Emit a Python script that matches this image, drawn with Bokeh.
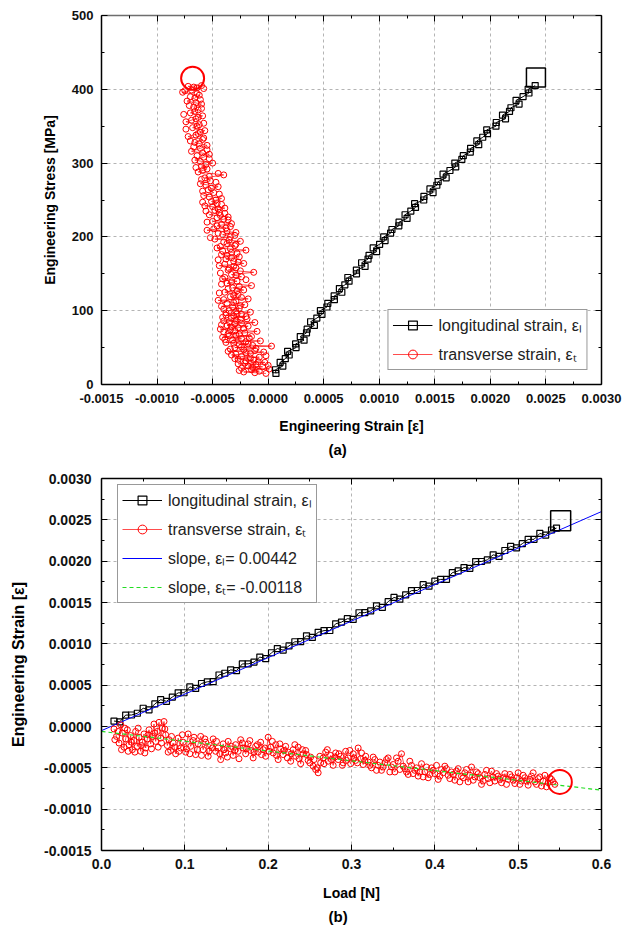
from bokeh.plotting import figure
from bokeh.models import (Range1d, LinearAxis, FixedTicker, NumeralTickFormatter,
                          Legend, LegendItem, Title)
from bokeh.layouts import column
from bokeh.embed import file_html
from bokeh.resources import INLINE

# ---------------- DATA ----------------
# (a) stress vs strain : longitudinal strain (black squares)
long_a_stress = [15, 20, 25, 30, 35, 40, 45, 50, 55, 60,
                 65, 70, 75, 80, 85, 90, 95, 100, 105, 110,
                 115, 120, 125, 130, 135, 140, 145, 150, 155, 160,
                 165, 170, 175, 180, 185, 190, 195, 200, 205, 210,
                 215, 220, 225, 230, 235, 240, 245, 250, 255, 260,
                 265, 270, 275, 280, 285, 290, 295, 300, 305, 310,
                 315, 320, 325, 330, 335, 340, 345, 350, 355, 360,
                 365, 370, 375, 380, 385, 390, 395, 400, 405]
long_a_strain = [0.000070, 0.000066, 0.000132, 0.000108, 0.000154, 0.000189, 0.000175, 0.000251, 0.000247, 0.000323,
                 0.000289, 0.000345, 0.000351, 0.000416, 0.000382, 0.000438, 0.000484, 0.000470, 0.000529, 0.000537,
                 0.000596, 0.000594, 0.000663, 0.000641, 0.000690, 0.000728, 0.000717, 0.000795, 0.000794, 0.000872,
                 0.000841, 0.000899, 0.000908, 0.000976, 0.000945, 0.001003, 0.001052, 0.001040, 0.001102, 0.001114,
                 0.001176, 0.001178, 0.001250, 0.001232, 0.001284, 0.001326, 0.001318, 0.001400, 0.001402, 0.001484,
                 0.001456, 0.001518, 0.001530, 0.001602, 0.001574, 0.001636, 0.001688, 0.001680, 0.001743, 0.001756,
                 0.001819, 0.001822, 0.001895, 0.001878, 0.001931, 0.001974, 0.001967, 0.002050, 0.002053, 0.002136,
                 0.002109, 0.002172, 0.002185, 0.002258, 0.002231, 0.002294, 0.002347, 0.002340, 0.002403]

# (a) transverse strain (red circles), in measurement order
trans_a_stress = [15, 17, 18, 20, 21, 22, 24, 25, 27, 28,
                  30, 32, 33, 35, 37, 38, 40, 42, 44, 45,
                  47, 49, 50, 52, 54, 55, 57, 59, 60, 62,
                  64, 65, 67, 69, 70, 72, 74, 75, 77, 79,
                  80, 82, 84, 86, 88, 90, 92, 94, 96, 98,
                  100, 103, 106, 108, 111, 114, 116, 119, 122, 125,
                  128, 131, 134, 137, 140, 143, 146, 149, 152, 155,
                  158, 161, 164, 167, 170, 173, 176, 179, 182, 185,
                  188, 191, 194, 197, 200, 203, 206, 209, 212, 215,
                  218, 221, 224, 227, 230, 233, 236, 239, 242, 245,
                  248, 252, 256, 260, 264, 268, 272, 276, 280, 284,
                  288, 292, 296, 300, 304, 308, 312, 316, 320, 324,
                  328, 332, 336, 340, 344, 348, 352, 356, 360, 364,
                  368, 372, 376, 380, 384, 388, 392, 396, 399, 402,
                  404, 405]
trans_a_strain = [-0.00002, -0.00022, -0.00008, -0.00015, 0.00001, -0.00024, -0.00005, -0.00018, -0.00011, -0.00027,
                  -0.00003, -0.00020, -0.00013, -0.00030, -0.00008, -0.00024, -0.00033, -0.00016, -0.00004, -0.00036,
                  -0.00022, -0.00011, -0.00030, 0.00003, -0.00026, -0.00018, -0.00038, -0.00007, -0.00032, -0.00024,
                  -0.00041, -0.00015, -0.00029, -0.00036, -0.00021, -0.00010, -0.00034, -0.00043, -0.00027, -0.00018,
                  -0.00037, -0.00030, -0.00012, -0.00040, -0.00025, -0.00033, -0.00020, -0.00038, -0.00028, -0.00016,
                  -0.00035, -0.00026, -0.00042, -0.00021, -0.00031, -0.00045, -0.00018, -0.00034, -0.00027, -0.00039,
                  -0.00022, -0.00032, -0.00015, -0.00037, -0.00028, -0.00041, -0.00024, -0.00033, -0.00013, -0.00036,
                  -0.00029, -0.00044, -0.00022, -0.00031, -0.00038, -0.00026, -0.00042, -0.00033, -0.00020, -0.00046,
                  -0.00030, -0.00037, -0.00025, -0.00048, -0.00034, -0.00041, -0.00029, -0.00055, -0.00038, -0.00046,
                  -0.00033, -0.00050, -0.00040, -0.00036, -0.00053, -0.00044, -0.00048, -0.00039, -0.00057, -0.00046,
                  -0.00051, -0.00042, -0.00058, -0.00049, -0.00054, -0.00045, -0.00061, -0.00052, -0.00057, -0.00040,
                  -0.00063, -0.00055, -0.00060, -0.00050, -0.00066, -0.00058, -0.00053, -0.00069, -0.00061, -0.00055,
                  -0.00066, -0.00059, -0.00072, -0.00063, -0.00057, -0.00068, -0.00062, -0.00074, -0.00065, -0.00059,
                  -0.00070, -0.00063, -0.00067, -0.00060, -0.00073, -0.00066, -0.00062, -0.00077, -0.00069, -0.00064,
                  -0.00072, -0.00060]
# (a) further transverse readings from the dense part of the cloud
trans_a_stress2 = [16, 19, 23, 26, 29, 31, 34, 36, 39, 41,
                   43, 46, 48, 51, 53, 56, 58, 61, 63, 66,
                   68, 71, 73, 76, 78, 81, 83, 85, 87, 89,
                   91, 93, 95, 97, 99, 102, 105, 107, 110, 113,
                   115, 118, 121, 124, 127, 130, 133, 136, 139, 142,
                   145, 148, 151, 154, 157, 160, 163, 166, 169, 172,
                   175, 178, 181, 184, 187, 190, 193, 196, 199, 202,
                   205, 208, 211, 214, 217, 220, 223, 226, 229, 232,
                   235, 238, 241, 244, 247, 250, 254, 258, 262, 266,
                   270, 274, 278, 282, 286, 290, 294, 298, 302, 306,
                   310, 314, 318, 322, 326, 330, 334, 338, 342, 346,
                   350, 354, 358, 362, 366, 370, 374, 378, 382, 386,
                   390, 394, 398, 401, 403]
trans_a_strain2 = [-0.00012, -0.00026, -0.00014, 0.00000, -0.00021, -0.00009, -0.00027, -0.00016, -0.00002, -0.00029,
                   -0.00020, -0.00012, -0.00034, -0.00024, -0.00014, -0.00031, -0.00020, -0.00039, -0.00017, -0.00035,
                   -0.00026, -0.00040, -0.00030, -0.00022, -0.00033, -0.00042, -0.00024, -0.00035, -0.00029, -0.00019,
                   -0.00041, -0.00031, -0.00024, -0.00038, -0.00029, -0.00040, -0.00032, -0.00025, -0.00037, -0.00029,
                   -0.00040, -0.00024, -0.00031, -0.00044, -0.00028, -0.00036, -0.00026, -0.00042, -0.00033, -0.00020,
                   -0.00039, -0.00029, -0.00043, -0.00025, -0.00035, -0.00031, -0.00039, -0.00027, -0.00045, -0.00033,
                   -0.00037, -0.00028, -0.00041, -0.00034, -0.00043, -0.00029, -0.00040, -0.00035, -0.00052, -0.00030,
                   -0.00045, -0.00037, -0.00049, -0.00034, -0.00042, -0.00055, -0.00036, -0.00046, -0.00043, -0.00039,
                   -0.00056, -0.00045, -0.00050, -0.00042, -0.00059, -0.00047, -0.00053, -0.00044, -0.00059, -0.00051,
                   -0.00056, -0.00047, -0.00060, -0.00053, -0.00045, -0.00059, -0.00065, -0.00056, -0.00061, -0.00053,
                   -0.00064, -0.00059, -0.00055, -0.00067, -0.00062, -0.00070, -0.00058, -0.00065, -0.00061, -0.00074,
                   -0.00064, -0.00058, -0.00069, -0.00063, -0.00076, -0.00066, -0.00060, -0.00071, -0.00065, -0.00061,
                   -0.00070, -0.00064, -0.00075, -0.00058, -0.00067]

# end-point markers (a)
long_a_end = ([0.00241], [416])
trans_a_end = ([-0.00068], [415])

# (b) strain vs load : longitudinal strain (black squares)
long_b_load = [0.015, 0.022, 0.029, 0.036, 0.043, 0.050, 0.057, 0.064, 0.071, 0.078,
               0.085, 0.092, 0.099, 0.106, 0.113, 0.120, 0.127, 0.134, 0.141, 0.148,
               0.155, 0.162, 0.169, 0.176, 0.183, 0.190, 0.197, 0.204, 0.211, 0.218,
               0.225, 0.232, 0.239, 0.246, 0.253, 0.260, 0.267, 0.274, 0.281, 0.288,
               0.295, 0.302, 0.309, 0.316, 0.323, 0.330, 0.337, 0.344, 0.351, 0.358,
               0.365, 0.372, 0.379, 0.386, 0.393, 0.400, 0.407, 0.414, 0.421, 0.428,
               0.435, 0.442, 0.449, 0.456, 0.463, 0.470, 0.477, 0.484, 0.491, 0.498,
               0.505, 0.512, 0.519, 0.526, 0.533, 0.540, 0.546]
long_b_strain = [0.000066, 0.000057, 0.000138, 0.000139, 0.000160, 0.000221, 0.000202, 0.000273, 0.000324, 0.000305,
                 0.000356, 0.000407, 0.000408, 0.000479, 0.000460, 0.000520, 0.000541, 0.000542, 0.000623, 0.000644,
                 0.000685, 0.000676, 0.000757, 0.000758, 0.000779, 0.000840, 0.000821, 0.000892, 0.000943, 0.000924,
                 0.000975, 0.001025, 0.001026, 0.001097, 0.001078, 0.001139, 0.001160, 0.001161, 0.001242, 0.001263,
                 0.001304, 0.001295, 0.001376, 0.001377, 0.001398, 0.001459, 0.001440, 0.001510, 0.001561, 0.001542,
                 0.001593, 0.001644, 0.001645, 0.001716, 0.001697, 0.001758, 0.001779, 0.001780, 0.001861, 0.001882,
                 0.001923, 0.001914, 0.001995, 0.001996, 0.002016, 0.002077, 0.002058, 0.002129, 0.002180, 0.002161,
                 0.002212, 0.002263, 0.002264, 0.002335, 0.002316, 0.002377, 0.002400]

# (b) transverse strain (red circles), in measurement order
trans_b_load = [0.015, 0.018, 0.021, 0.023, 0.025, 0.027, 0.029, 0.031, 0.033, 0.035,
                0.037, 0.039, 0.041, 0.043, 0.045, 0.047, 0.049, 0.051, 0.053, 0.055,
                0.057, 0.059, 0.061, 0.063, 0.065, 0.067, 0.069, 0.071, 0.073, 0.075,
                0.077, 0.079, 0.081, 0.083, 0.086, 0.089, 0.092, 0.095, 0.098, 0.101,
                0.104, 0.107, 0.110, 0.113, 0.116, 0.119, 0.122, 0.125, 0.128, 0.131,
                0.134, 0.137, 0.140, 0.143, 0.146, 0.149, 0.152, 0.155, 0.158, 0.161,
                0.164, 0.167, 0.170, 0.173, 0.176, 0.179, 0.182, 0.185, 0.188, 0.191,
                0.194, 0.197, 0.200, 0.203, 0.206, 0.209, 0.212, 0.215, 0.218, 0.221,
                0.224, 0.227, 0.230, 0.233, 0.236, 0.239, 0.242, 0.245, 0.248, 0.251,
                0.254, 0.257, 0.260, 0.263, 0.266, 0.269, 0.272, 0.275, 0.278, 0.281,
                0.284, 0.287, 0.290, 0.293, 0.296, 0.299, 0.302, 0.305, 0.308, 0.311,
                0.314, 0.317, 0.320, 0.324, 0.328, 0.332, 0.336, 0.340, 0.344, 0.348,
                0.352, 0.356, 0.360, 0.364, 0.368, 0.372, 0.376, 0.380, 0.384, 0.388,
                0.392, 0.396, 0.400, 0.404, 0.408, 0.412, 0.416, 0.420, 0.424, 0.428,
                0.432, 0.436, 0.440, 0.444, 0.448, 0.452, 0.456, 0.460, 0.464, 0.468,
                0.472, 0.476, 0.480, 0.484, 0.488, 0.492, 0.496, 0.500, 0.504, 0.508,
                0.512, 0.516, 0.520, 0.524, 0.528, 0.532, 0.536, 0.540, 0.544]
trans_b_strain = [-0.00003, -0.00012, -0.00020, 0.00002, -0.00008, -0.00025, -0.00015, -0.00004, -0.00022, -0.00011,
                  -0.00028, -0.00017, -0.00006, -0.00024, -0.00013, -0.00030, -0.00019, -0.00009, -0.00026, -0.00015,
                  -0.00004, -0.00021, -0.00012, 0.00003, -0.00018, -0.00006, 0.00005, -0.00014, -0.00002, 0.00006,
                  -0.00010, -0.00023, -0.00016, -0.00029, -0.00020, -0.00033, -0.00014, -0.00026, -0.00019, -0.00031,
                  -0.00009, -0.00024, -0.00017, -0.00034, -0.00021, -0.00012, -0.00028, -0.00019, -0.00036, -0.00023,
                  -0.00015, -0.00030, -0.00026, -0.00040, -0.00021, -0.00032, -0.00018, -0.00027, -0.00035, -0.00022,
                  -0.00030, -0.00016, -0.00026, -0.00033, -0.00021, -0.00029, -0.00038, -0.00024, -0.00031, -0.00019,
                  -0.00028, -0.00036, -0.00013, -0.00025, -0.00032, -0.00022, -0.00040, -0.00027, -0.00034, -0.00024,
                  -0.00031, -0.00042, -0.00028, -0.00036, -0.00025, -0.00045, -0.00033, -0.00029, -0.00041, -0.00037,
                  -0.00048, -0.00052, -0.00056, -0.00044, -0.00038, -0.00031, -0.00042, -0.00035, -0.00047, -0.00032,
                  -0.00040, -0.00036, -0.00044, -0.00030, -0.00038, -0.00045, -0.00033, -0.00041, -0.00026, -0.00039,
                  -0.00046, -0.00036, -0.00043, -0.00050, -0.00040, -0.00047, -0.00053, -0.00044, -0.00038, -0.00049,
                  -0.00055, -0.00042, -0.00033, -0.00051, -0.00058, -0.00047, -0.00053, -0.00060, -0.00045, -0.00055,
                  -0.00062, -0.00050, -0.00057, -0.00064, -0.00052, -0.00048, -0.00059, -0.00055, -0.00065, -0.00051,
                  -0.00060, -0.00056, -0.00067, -0.00049, -0.00061, -0.00057, -0.00070, -0.00058, -0.00063, -0.00054,
                  -0.00066, -0.00060, -0.00068, -0.00057, -0.00064, -0.00061, -0.00069, -0.00056, -0.00066, -0.00062,
                  -0.00071, -0.00060, -0.00067, -0.00063, -0.00072, -0.00059, -0.00068, -0.00064, -0.00070]
# (b) further transverse readings from the dense band
trans_b_load2 = [0.016, 0.020, 0.024, 0.028, 0.032, 0.036, 0.040, 0.044, 0.048, 0.052,
                 0.056, 0.060, 0.064, 0.068, 0.072, 0.076, 0.080, 0.084, 0.088, 0.093,
                 0.097, 0.102, 0.106, 0.111, 0.115, 0.120, 0.124, 0.129, 0.133, 0.138,
                 0.142, 0.147, 0.151, 0.156, 0.160, 0.165, 0.169, 0.174, 0.178, 0.183,
                 0.187, 0.192, 0.196, 0.201, 0.205, 0.210, 0.214, 0.219, 0.223, 0.228,
                 0.232, 0.237, 0.241, 0.246, 0.250, 0.255, 0.259, 0.262, 0.267, 0.271,
                 0.276, 0.280, 0.285, 0.289, 0.294, 0.298, 0.303, 0.307, 0.312, 0.316,
                 0.322, 0.326, 0.330, 0.334, 0.338, 0.342, 0.346, 0.350, 0.354, 0.358,
                 0.362, 0.366, 0.370, 0.374, 0.378, 0.382, 0.386, 0.390, 0.394, 0.398,
                 0.402, 0.406, 0.410, 0.414, 0.418, 0.422, 0.426, 0.430, 0.434, 0.438,
                 0.442, 0.446, 0.450, 0.454, 0.458, 0.462, 0.466, 0.470, 0.474, 0.478,
                 0.482, 0.486, 0.490, 0.494, 0.498, 0.502, 0.506, 0.510, 0.514, 0.518,
                 0.522, 0.526, 0.530, 0.534, 0.538, 0.542]
trans_b_strain2 = [-0.00016, -0.00006, -0.00028, -0.00002, -0.00030, -0.00019, -0.00031, -0.00002, -0.00023, -0.00032,
                   -0.00010, -0.00027, -0.00008, -0.00025, -0.00020, -0.00003, -0.00031, -0.00012, -0.00025, -0.00030,
                   -0.00010, -0.00027, -0.00033, -0.00013, -0.00028, -0.00035, -0.00015, -0.00030, -0.00026, -0.00018,
                   -0.00033, -0.00028, -0.00037, -0.00024, -0.00029, -0.00039, -0.00020, -0.00027, -0.00017, -0.00031,
                   -0.00022, -0.00034, -0.00026, -0.00030, -0.00018, -0.00035, -0.00021, -0.00029, -0.00038, -0.00033,
                   -0.00022, -0.00039, -0.00028, -0.00034, -0.00044, -0.00040, -0.00050, -0.00036, -0.00045, -0.00028,
                   -0.00040, -0.00037, -0.00033, -0.00047, -0.00041, -0.00029, -0.00038, -0.00044, -0.00032, -0.00041,
                   -0.00047, -0.00037, -0.00053, -0.00043, -0.00049, -0.00040, -0.00055, -0.00046, -0.00038, -0.00052,
                   -0.00048, -0.00055, -0.00042, -0.00057, -0.00050, -0.00055, -0.00061, -0.00049, -0.00058, -0.00053,
                   -0.00047, -0.00060, -0.00056, -0.00051, -0.00063, -0.00058, -0.00054, -0.00067, -0.00062, -0.00052,
                   -0.00059, -0.00065, -0.00055, -0.00062, -0.00066, -0.00053, -0.00068, -0.00061, -0.00057, -0.00064,
                   -0.00062, -0.00070, -0.00058, -0.00065, -0.00062, -0.00070, -0.00059, -0.00066, -0.00064, -0.00056,
                   -0.00070, -0.00061, -0.00066, -0.00073, -0.00062, -0.00067]

long_b_end = ([0.551], [0.00249])
trans_b_end = ([0.550], [-0.00067])

# fitted slope lines (end points)
slope_l_load = [0.0, 0.6]
slope_l_strain = [-0.00005, 0.00260]
slope_t_load = [0.0, 0.6]
slope_t_strain = [-0.00006, -0.00077]

# axis ticks
a_xticks = [-0.0015, -0.0010, -0.0005, 0.0, 0.0005, 0.0010, 0.0015, 0.0020, 0.0025, 0.0030]
a_xminor = [-0.00125, -0.00075, -0.00025, 0.00025, 0.00075, 0.00125, 0.00175, 0.00225, 0.00275]
a_yticks = [0, 100, 200, 300, 400, 500]
a_yminor = [50, 150, 250, 350, 450]
b_xticks = [0.0, 0.1, 0.2, 0.3, 0.4, 0.5, 0.6]
b_xminor = [0.05, 0.15, 0.25, 0.35, 0.45, 0.55]
b_yticks = [-0.0015, -0.0010, -0.0005, 0.0, 0.0005, 0.0010, 0.0015, 0.0020, 0.0025, 0.0030]
b_yminor = [-0.00125, -0.00075, -0.00025, 0.00025, 0.00075, 0.00125, 0.00175, 0.00225, 0.00275]

# ---------------- STYLE ----------------
FONT = "Liberation Sans"
RED = "#ff0000"
GREEN = "#22dd22"
BLUE = "#0000ff"


def setup_axes(p, xt, xm, yt, ym, xfmt, yfmt, tick_size, top_color="#000000"):
    xa = p.below[0]
    ya = p.left[0]
    xtick = FixedTicker(ticks=xt, minor_ticks=xm)
    ytick = FixedTicker(ticks=yt, minor_ticks=ym)
    for ax, tk, fmt in ((xa, xtick, xfmt), (ya, ytick, yfmt)):
        ax.ticker = tk
        ax.formatter = NumeralTickFormatter(format=fmt)
        ax.major_tick_in = 6
        ax.major_tick_out = 0
        ax.minor_tick_in = 3
        ax.minor_tick_out = 0
        ax.axis_line_width = 1.5
        ax.axis_line_color = "#000000"
        ax.major_tick_line_color = "#000000"
        ax.minor_tick_line_color = "#000000"
        ax.major_label_text_font = FONT
        ax.major_label_text_font_style = "bold"
        ax.major_label_text_font_size = tick_size
        ax.major_label_text_color = "#111111"
        ax.axis_label_text_font = FONT
        ax.axis_label_text_font_style = "bold"
        ax.axis_label_text_color = "#000000"
    for loc, tk, color in (("above", xtick, top_color), ("right", ytick, "#000000")):
        ax = LinearAxis(ticker=tk, major_label_text_font_size="1px", major_label_text_color=None,
                        major_label_standoff=0,
                        major_tick_in=6, major_tick_out=0, minor_tick_in=3, minor_tick_out=0,
                        axis_line_width=1.5, axis_line_color=color)
        p.add_layout(ax, loc)
    p.xgrid.ticker = xtick
    p.ygrid.ticker = ytick
    for g in (p.xgrid[0], p.ygrid[0]):
        g.grid_line_color = "#b4b4b4"
        g.grid_line_dash = "3 3"
        g.grid_line_width = 1
    return xa, ya


def make_legend(items, **kw):
    return Legend(items=items, label_text_font=FONT, label_text_font_size="16px",
                  label_text_color="#222222", glyph_width=40, glyph_height=22,
                  label_height=22, label_standoff=6, padding=4, spacing=7,
                  border_line_color="#333333", border_line_width=1.5,
                  background_fill_color="white", background_fill_alpha=1.0, **kw)


def panel_title(text, offset):
    return Title(text=text, align="left", offset=offset, text_font=FONT,
                 text_font_style="bold", text_font_size="15px", text_color="#000000",
                 standoff=4)


# ---------------- (a) ----------------
pa = figure(width=625, height=460, x_range=Range1d(-0.0015, 0.0030), y_range=Range1d(0, 500),
            output_backend="svg", toolbar_location=None,
            min_border_left=101, min_border_right=24, min_border_top=15, min_border_bottom=76,
            outline_line_color=None, background_fill_color="white", border_fill_color="white")
xa, ya = setup_axes(pa, a_xticks, a_xminor, a_yticks, a_yminor, "0.0000", "0", "13px", top_color="#6e6e6e")
xa.axis_label = "Engineering Strain [ε]"
ya.axis_label = "Engineering Stress [MPa]"
xa.axis_label_text_font_size = "14px"
ya.axis_label_text_font_size = "14px"
xa.major_label_standoff = 9
ya.major_label_standoff = 8
xa.axis_label_standoff = 12
ya.axis_label_standoff = 11

ra_tl = pa.line(trans_a_strain, trans_a_stress, line_color=RED, line_width=0.7)
ra_ts = pa.scatter(trans_a_strain, trans_a_stress, marker="circle", size=6,
                   line_color=RED, fill_color=None, line_width=1)
pa.scatter(trans_a_strain2, trans_a_stress2, marker="circle", size=6,
           line_color=RED, fill_color=None, line_width=1)
ra_ll = pa.line(long_a_strain, long_a_stress, line_color="black", line_width=1)
ra_ls = pa.scatter(long_a_strain, long_a_stress, marker="square", size=6,
                   line_color="black", fill_color=None, line_width=1.2)
pa.scatter(trans_a_end[0], trans_a_end[1], marker="circle", size=23, line_color=RED,
           fill_color=None, line_width=2)
pa.scatter(long_a_end[0], long_a_end[1], marker="square", size=19, line_color="black",
           fill_color=None, line_width=1.5)

pa.add_layout(make_legend([
    LegendItem(label="longitudinal strain, ε\u2097", renderers=[ra_ll, ra_ls]),
    LegendItem(label="transverse strain, ε\u209c", renderers=[ra_tl, ra_ts]),
], location="bottom_right", margin=14))
pa.add_layout(panel_title("(a)", 227), "below")

# ---------------- (b) ----------------
pb = figure(width=625, height=469, x_range=Range1d(0.0, 0.6), y_range=Range1d(-0.0015, 0.0030),
            output_backend="svg", toolbar_location=None,
            min_border_left=99, min_border_right=24, min_border_top=18, min_border_bottom=79,
            outline_line_color=None, background_fill_color="white", border_fill_color="white")
xb, yb = setup_axes(pb, b_xticks, b_xminor, b_yticks, b_yminor, "0.0", "0.0000", "14px")
xb.axis_label = "Load [N]"
yb.axis_label = "Engineering Strain [ε]"
xb.axis_label_text_font_size = "14px"
yb.axis_label_text_font_size = "16px"
xb.major_label_standoff = 8
yb.major_label_standoff = 10
xb.axis_label_standoff = 13
yb.axis_label_standoff = 14

rb_ll = pb.line(long_b_load, long_b_strain, line_color="black", line_width=1)
rb_ls = pb.scatter(long_b_load, long_b_strain, marker="square", size=6,
                   line_color="black", fill_color=None, line_width=1.2)
rb_sl = pb.line(slope_l_load, slope_l_strain, line_color=BLUE, line_width=1)
rb_tl = pb.line(trans_b_load, trans_b_strain, line_color=RED, line_width=0.7)
rb_ts = pb.scatter(trans_b_load, trans_b_strain, marker="circle", size=6,
                   line_color=RED, fill_color=None, line_width=1)
pb.scatter(trans_b_load2, trans_b_strain2, marker="circle", size=6,
           line_color=RED, fill_color=None, line_width=1)
rb_st = pb.line(slope_t_load, slope_t_strain, line_color=GREEN, line_width=1.2, line_dash="4 3")
pb.scatter(trans_b_end[0], trans_b_end[1], marker="circle", size=24, line_color=RED,
           fill_color=None, line_width=2)
pb.scatter(long_b_end[0], long_b_end[1], marker="square", size=20, line_color="black",
           fill_color=None, line_width=1.5)

pb.add_layout(make_legend([
    LegendItem(label="longitudinal strain, ε\u2097", renderers=[rb_ll, rb_ls]),
    LegendItem(label="transverse strain, ε\u209c", renderers=[rb_tl, rb_ts]),
    LegendItem(label="slope, ε\u2097= 0.00442", renderers=[rb_sl]),
    LegendItem(label="slope, ε\u209c= -0.00118", renderers=[rb_st]),
], location=(16, 247)))
pb.add_layout(panel_title("(b)", 227), "below")

layout = column(pa, pb, spacing=0)
open("out.html", "w").write(file_html(layout, INLINE))
